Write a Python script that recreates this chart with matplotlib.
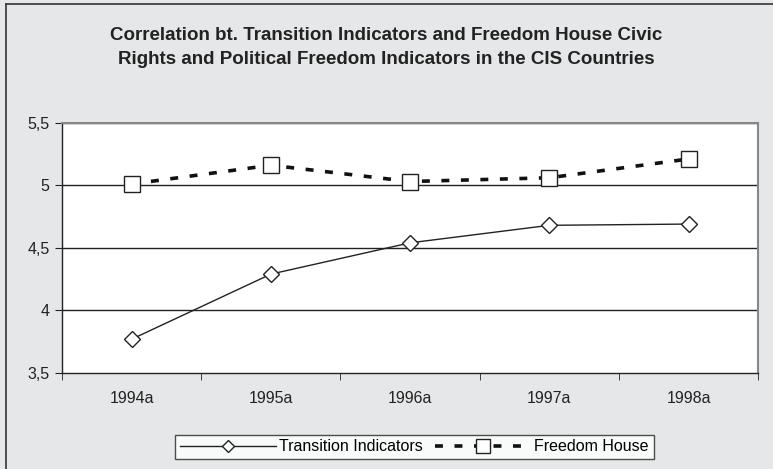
import matplotlib.pyplot as plt
from matplotlib.lines import Line2D
from matplotlib.ticker import FixedLocator, FuncFormatter

years = ["1994a", "1995a", "1996a", "1997a", "1998a"]
transition = [3.77, 4.29, 4.54, 4.68, 4.69]
freedom = [5.01, 5.16, 5.03, 5.06, 5.21]

bg = "#e6e7e8"
plt.rcParams["font.family"] = ["Liberation Sans", "DejaVu Sans"]

fig = plt.figure(figsize=(7.73, 4.69), dpi=100, facecolor=bg)
ax = fig.add_axes([0.0802, 0.2047, 0.9006, 0.5337])
ax.set_facecolor("white")

x = list(range(len(years)))
ax.plot(x, transition, color="#222222", lw=1.0, marker="D", markersize=8,
        markerfacecolor="white", markeredgecolor="#222222", markeredgewidth=1.0,
        label="Transition Indicators", zorder=3)
ax.plot(x, freedom, color="#111111", lw=2.6, dashes=(2.2, 3.2), marker="s",
        markersize=12, markerfacecolor="white", markeredgecolor="#222222",
        markeredgewidth=1.0, label="Freedom House", zorder=3)

ax.set_ylim(3.5, 5.5)
ax.set_xlim(-0.5, 4.5)
ax.set_yticks([3.5, 4, 4.5, 5, 5.5])
ax.yaxis.set_major_formatter(FuncFormatter(lambda v, p: f"{v:g}".replace(".", ",")))
for v in [4, 4.5, 5, 5.5]:
    ax.axhline(v, color="#222222", lw=1.0, zorder=1)

ax.set_xticks(x)
ax.set_xticklabels(years)
ax.xaxis.set_minor_locator(FixedLocator([-0.5, 0.5, 1.5, 2.5, 3.5, 4.5]))
ax.tick_params(axis="x", which="major", length=0, pad=13, labelsize=11.5, labelcolor="#222222")
ax.tick_params(axis="x", which="minor", length=5, direction="out", color="#222222")
ax.tick_params(axis="y", length=5, direction="out", color="#222222", labelsize=11.5,
               labelcolor="#222222", pad=4)

for side in ["left", "bottom"]:
    ax.spines[side].set_color("#222222")
    ax.spines[side].set_linewidth(1.0)
for side in ["top", "right"]:
    ax.spines[side].set_color("#888888")
    ax.spines[side].set_linewidth(1.5)

fig.text(0.5, 0.898, "Correlation bt. Transition Indicators and Freedom House Civic\n"
         "Rights and Political Freedom Indicators in the CIS Countries",
         ha="center", va="center", fontsize=13.5, fontweight="bold", color="#222222",
         linespacing=1.55)

leg = fig.legend(loc="center", bbox_to_anchor=(0.536, 0.047), ncol=2, frameon=True,
                 fancybox=False, fontsize=11.5, handlelength=6.0, handletextpad=0.2,
                 columnspacing=0.8, borderpad=0.3, edgecolor="#222222", markerscale=0.8)
leg.get_frame().set_linewidth(1.0)
leg.get_frame().set_facecolor("white")

# outer chart frame (left and top edges only visible)
fx, fy = 5.5 / 773, 1 - 4.5 / 469
fig.add_artist(Line2D([fx, fx], [0, fy], transform=fig.transFigure, color="#333333", lw=1.2))
fig.add_artist(Line2D([fx, 1], [fy, fy], transform=fig.transFigure, color="#333333", lw=1.2))

fig.savefig("out.png", dpi=100, facecolor=bg)
